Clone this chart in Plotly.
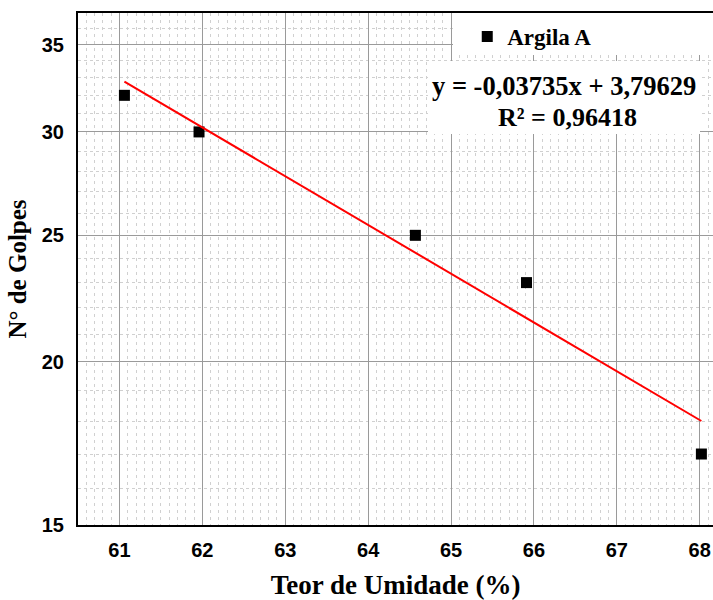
import plotly.graph_objects as go

# Data
teor = [61.06, 61.96, 64.57, 65.91, 68.02]        # Teor de Umidade (%)
golpes = [32.0, 30.0, 25.0, 23.0, 17.0]           # N° de Golpes
slope = -0.03735                                   # log10(N) = slope*x + intercept
intercept = 3.79629
r2 = 0.96418
x_ticks = [61, 62, 63, 64, 65, 66, 67, 68]
y_ticks = [15, 20, 25, 30, 35]
y_minor = [v for v in range(15, 38) if v not in y_ticks]

x_fit = [min(teor), max(teor)]
y_fit = [10 ** (slope * x + intercept) for x in x_fit]

fmt = lambda v, n: f"{v:.{n}f}".replace(".", ",")
eq1 = f"y = {fmt(slope, 5)}x + {fmt(intercept, 5)}"
eq2 = f"R² = {fmt(r2, 5)}"

fig = go.Figure()
fig.add_trace(go.Scatter(
    x=teor, y=golpes, mode="markers", name="Argila A",
    marker=dict(symbol="square", size=11, color="black"),
))
fig.add_trace(go.Scatter(
    x=x_fit, y=y_fit, mode="lines", showlegend=False,
    line=dict(color="#ff0000", width=2),
))

serif = "Liberation Serif, Times New Roman, serif"
sans = "Liberation Sans, Arial, sans-serif"

fig.update_layout(
    width=713, height=600,
    margin=dict(l=78, r=0, t=13, b=75, autoexpand=False),
    paper_bgcolor="white", plot_bgcolor="white",
    showlegend=True,
    legend=dict(
        x=0.613, y=1 - 2 / 512, xanchor="left", yanchor="top",
        bgcolor="rgba(0,0,0,0)", borderwidth=0,
        font=dict(family=serif, size=23, color="black", weight="bold"),
    ),
    xaxis=dict(
        range=[60.5, 68.16], tickvals=x_ticks, automargin=False,
        showgrid=True, gridcolor="#9a9a9a", gridwidth=1,
        minor=dict(dtick=0.1, tick0=60, showgrid=True, gridcolor="#d0d0d0",
                   griddash="3px,4px", gridwidth=1),
        showline=True, linecolor="black", linewidth=2, mirror=True,
        ticks="", ticklabelstandoff=6,
        tickfont=dict(family=sans, size=20, color="black", weight="bold"),
        title=dict(text="Teor de Umidade (%)", standoff=16,
                   font=dict(family=serif, size=27, color="black", weight="bold")),
        zeroline=False,
    ),
    yaxis=dict(
        type="log", range=[1.176091, 1.568202], tickvals=y_ticks, automargin=False,
        ticktext=[str(v) for v in y_ticks],
        showgrid=True, gridcolor="#9a9a9a", gridwidth=1,
        minor=dict(tickmode="array", tickvals=y_minor, showgrid=True,
                   gridcolor="#d0d0d0", griddash="3px,3px", gridwidth=1),
        showline=True, linecolor="black", linewidth=2,
        ticks="", ticklabelstandoff=8,
        tickfont=dict(family=sans, size=20, color="black", weight="bold"),
        title=dict(text="N° de Golpes", standoff=8,
                   font=dict(family=serif, size=25, color="black", weight="bold")),
        zeroline=False,
    ),
    shapes=[
        dict(type="rect", xref="paper", yref="paper", layer="above",
             x0=(453 - 78) / 635, x1=1.0, y0=(525 - 55) / 512, y1=1.0,
             fillcolor="white", line=dict(width=0)),
        dict(type="rect", xref="paper", yref="paper", layer="above",
             x0=(428 - 78) / 635, x1=(700 - 78) / 635,
             y0=(525 - 134) / 512, y1=(525 - 61) / 512,
             fillcolor="white", line=dict(width=0)),
    ],
    annotations=[
        dict(xref="paper", yref="paper", x=(564 - 78) / 635, y=(525 - 86) / 512,
             text=eq1, showarrow=False, xanchor="center", yanchor="middle",
             font=dict(family=serif, size=26.5, color="black", weight="bold")),
        dict(xref="paper", yref="paper", x=(567 - 78) / 635, y=(525 - 117) / 512,
             text=eq2, showarrow=False, xanchor="center", yanchor="middle",
             font=dict(family=serif, size=26, color="black", weight="bold")),
    ],
)

fig.write_html(
    "out.html",
    config={"displayModeBar": False},
    post_script="document.body.style.margin='0';document.body.style.overflow='hidden';",
)
